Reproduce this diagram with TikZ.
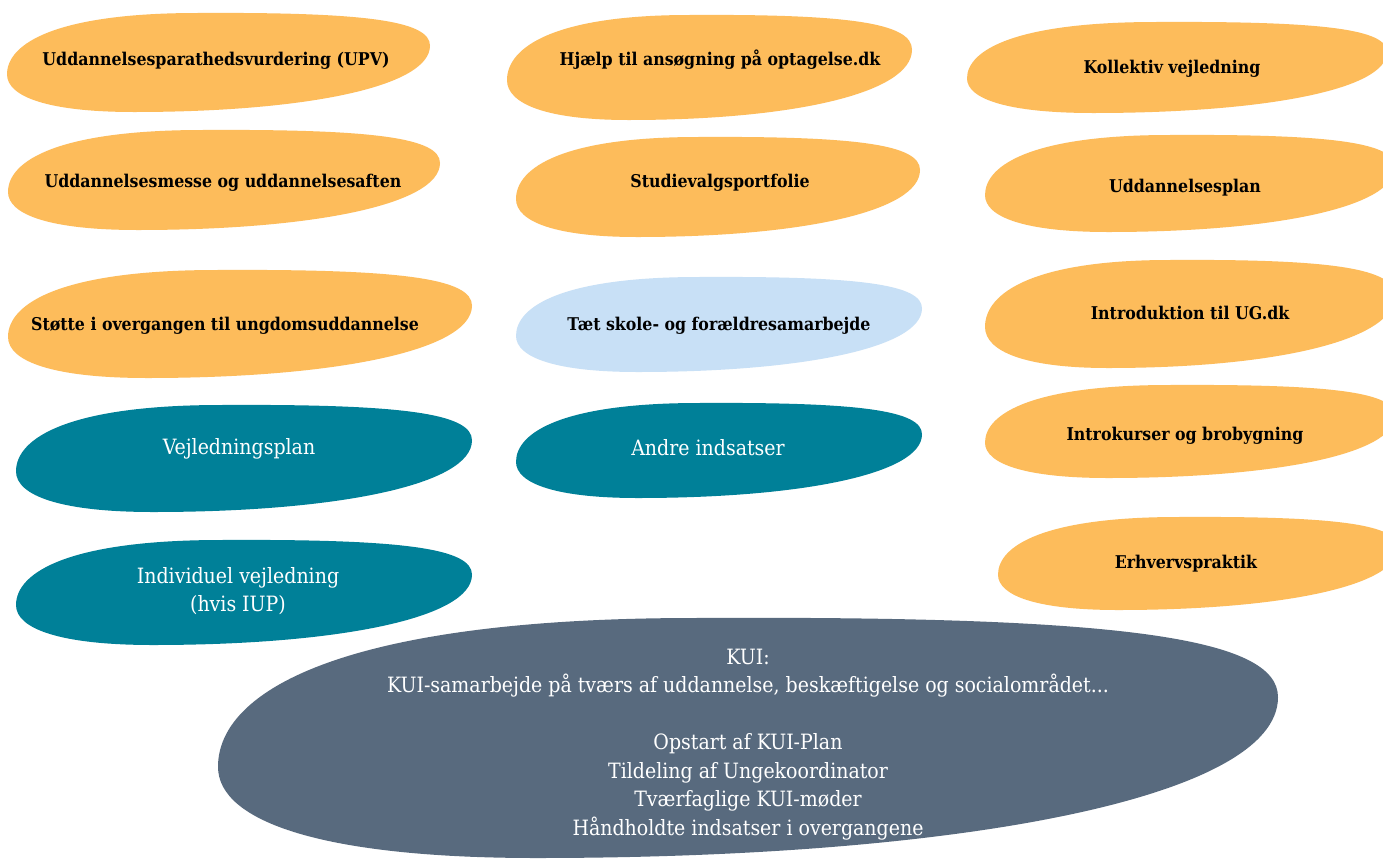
\documentclass[tikz,border=0pt]{standalone}
\usepackage{fontspec}
\setmainfont{DejaVu Serif Condensed}
\definecolor{blobor}{RGB}{253,188,91}
\definecolor{blobteal}{RGB}{0,128,152}
\definecolor{blobsky}{RGB}{200,224,246}
\definecolor{blobslate}{RGB}{88,106,126}
\newcommand{\blob}[5]{%
\begin{scope}[shift={(#1,#2)},xscale=#3,yscale=#4]
\fill[#5] (0,0.62) .. controls (0,0.3) and (0.12,0) .. (0.45,0)
  .. controls (0.85,-0.01) and (1,0.08) .. (1,0.33)
  .. controls (1,0.75) and (0.7,1) .. (0.3,1)
  .. controls (0.1,1) and (0,0.85) .. cycle;
\end{scope}}

\begin{document}
\begin{tikzpicture}[x=0.02cm,y=-0.02cm,
  lbl/.style={font=\fontsize{10}{16.2}\selectfont\bfseries,text=black,align=center,inner sep=0pt},
  lblw/.style={font=\fontsize{12}{16.2}\selectfont,text=white,align=center,inner sep=0pt}]
\clip (0,0) rectangle (1383,859);
\fill[white] (0,0) rectangle (1383,859);

\blob{7}{13}{423}{99}{blobor}
\blob{8}{130}{432}{100}{blobor}
\blob{8}{270}{464}{108}{blobor}
\blob{16}{405}{456}{107}{blobteal}
\blob{16}{540}{456}{105}{blobteal}
\blob{507}{15}{405}{105}{blobor}
\blob{516}{137}{404}{100}{blobor}
\blob{516}{277}{406}{95}{blobsky}
\blob{516}{403}{406}{95}{blobteal}
\blob{967}{22}{420}{91}{blobor}
\blob{985}{135}{410}{97}{blobor}
\blob{985}{260}{410}{108}{blobor}
\blob{985}{385}{410}{93}{blobor}
\blob{998}{517}{400}{93}{blobor}
\blob{218}{618}{1060}{240}{blobslate}

\node[lbl] (upv) at (216,61) {Uddannelsesparathedsvurdering (UPV)};
\node[lbl] (messe) at (223,183) {Uddannelsesmesse og uddannelsesaften};
\node[lbl] (stotte) at (225,326) {Støtte i overgangen til ungdomsuddannelse};
\node[lblw] (vplan) at (239,449) {Vejledningsplan};
\node[lblw] (indiv) at (238,591) {Individuel vejledning\\(hvis IUP)};
\node[lbl] (hjaelp) at (720,60) {Hjælp til ansøgning på optagelse.dk};
\node[lbl] (portf) at (720,183) {Studievalgsportfolie};
\node[lbl] (skole) at (719,326) {Tæt skole- og forældresamarbejde};
\node[lblw] (andre) at (708,448) {Andre indsatser};
\node[lbl] (koll) at (1172,69) {Kollektiv vejledning};
\node[lbl] (uplan) at (1185,188) {Uddannelsesplan};
\node[lbl] (ugdk) at (1190,313) {Introduktion til UG.dk};
\node[lbl] (intro) at (1185,436) {Introkurser og brobygning};
\node[lbl] (praktik) at (1186,564) {Erhvervspraktik};
\node[lblw] (kui) at (748,744.5) {KUI:\\KUI-samarbejde på tværs af uddannelse, beskæftigelse og socialområdet...\\[16.2pt]Opstart af KUI-Plan\\Tildeling af Ungekoordinator\\Tværfaglige KUI-møder\\Håndholdte indsatser i overgangene};

\end{tikzpicture}
\end{document}
